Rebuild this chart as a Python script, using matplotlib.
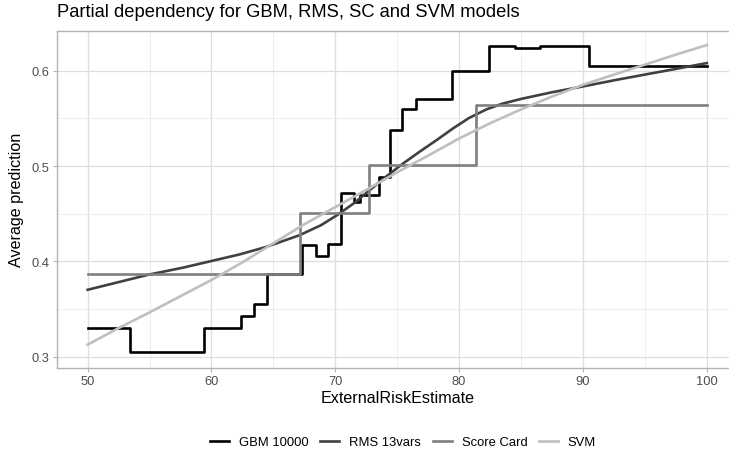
import matplotlib
matplotlib.use('Agg')
import matplotlib.pyplot as plt

plt.rcParams['font.family'] = ['Liberation Sans', 'DejaVu Sans']

# ---------------- data ----------------
gbm_x = [50, 53.4, 59.4, 62.4, 63.4, 64.5, 67.3, 68.4, 69.4, 70.45, 71.5, 72.0,
         73.5, 74.4, 75.4, 76.5, 79.4, 82.4, 84.5, 86.5, 90.5, 100]
gbm_y = [0.330, 0.3046, 0.330, 0.343, 0.355, 0.387, 0.417, 0.406, 0.4186, 0.4713,
         0.4625, 0.4695, 0.489, 0.538, 0.5597, 0.5702, 0.600, 0.6256, 0.624, 0.626,
         0.605, 0.605]

rms_x = [50, 52.3, 55, 57.7, 60, 62.3, 64.4, 67.1, 68.85, 70.2, 71.5, 72.8, 74.1,
         75.5, 76.8, 78.15, 79.5, 80.8, 82.2, 83.5, 85, 87.5, 90, 92.5, 94.9,
         97.5, 100]
rms_y = [0.3702, 0.3776, 0.3863, 0.3934, 0.4004, 0.4074, 0.4151, 0.4274, 0.438,
         0.449, 0.461, 0.475, 0.489, 0.503, 0.515, 0.527, 0.5395, 0.5505, 0.5595,
         0.5655, 0.5705, 0.5775, 0.5836, 0.590, 0.5958, 0.602, 0.6081]

sc_x = [50, 67.15, 72.7, 81.4, 100]
sc_y = [0.387, 0.451, 0.501, 0.5636, 0.5636]

svm_x = [50, 52.5, 55, 57.5, 60, 62.5, 65, 67.5, 70, 72.5, 75, 77.5, 80, 82.5,
         85, 87.5, 90, 92.5, 95, 97.5, 100]
svm_y = [0.3126, 0.330, 0.3465, 0.3635, 0.3805, 0.399, 0.419, 0.439, 0.457, 0.475,
         0.4935, 0.511, 0.529, 0.545, 0.5595, 0.573, 0.5853, 0.596, 0.6065, 0.617,
         0.627]

series_names = ['GBM 10000', 'RMS 13vars', 'Score Card', 'SVM']
colors = ['#000000', '#404040', '#7F7F7F', '#BFBFBF']

# ---------------- figure ----------------
fig = plt.figure(figsize=(7.29, 4.56), dpi=100)
ax = fig.add_axes([0.0778, 0.1908, 0.9342, 0.7397])

lw = 1.9
ax.step(gbm_x, gbm_y, where='post', color=colors[0], lw=lw, label=series_names[0], zorder=3)
ax.plot(rms_x, rms_y, color=colors[1], lw=lw, label=series_names[1], zorder=3)
ax.step(sc_x, sc_y, where='post', color=colors[2], lw=lw, label=series_names[2], zorder=3)
ax.plot(svm_x, svm_y, color=colors[3], lw=lw, label=series_names[3], zorder=3)

ax.set_xlim(47.5, 102.5)
ax.set_ylim(0.2881, 0.6421)

ax.set_xticks([50, 60, 70, 80, 90, 100])
ax.set_xticks([55, 65, 75, 85, 95], minor=True)
ax.set_yticks([0.3, 0.4, 0.5, 0.6])
ax.set_yticklabels(['0.3', '0.4', '0.5', '0.6'])
ax.set_yticks([0.35, 0.45, 0.55], minor=True)

ax.grid(which='major', color='#DEDEDE', linewidth=0.9, zorder=0)
ax.grid(which='minor', color='#EBEBEB', linewidth=0.6, zorder=0)
ax.set_axisbelow(True)

for s in ax.spines.values():
    s.set_color('#B3B3B3')
    s.set_linewidth(1.0)

ax.tick_params(which='major', length=2.7, width=0.8, color='#B3B3B3',
               labelsize=9.3, labelcolor='#4D4D4D', pad=2.7)
ax.tick_params(which='minor', length=0)

ax.set_xlabel('ExternalRiskEstimate', fontsize=11.6, labelpad=2)
ax.set_ylabel('Average prediction', fontsize=11.6, labelpad=5)

fig.text(0.0778, 0.9715, 'Partial dependency for GBM, RMS, SC and SVM models',
         fontsize=13.2, ha='left', va='center')

fig.legend(loc='center', bbox_to_anchor=(0.553, 0.0285), ncol=4, frameon=False,
           fontsize=9.4, handlelength=1.45, handletextpad=0.77, columnspacing=0.88)

fig.savefig('out.png', dpi=100)
